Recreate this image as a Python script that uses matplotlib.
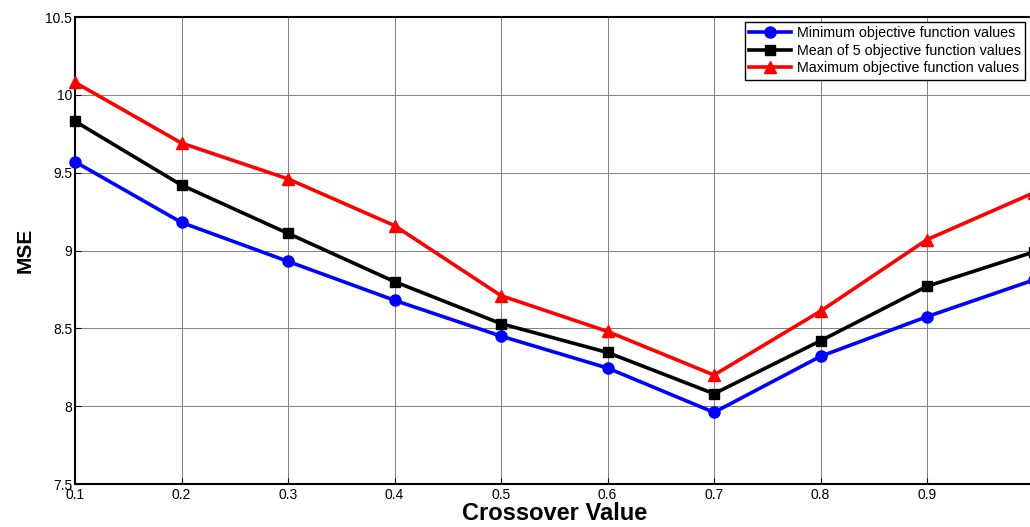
import matplotlib
matplotlib.use("Agg")
import matplotlib.pyplot as plt

plt.rcParams['font.family'] = ['Liberation Sans', 'DejaVu Sans']

crossover = [0.1, 0.2, 0.3, 0.4, 0.5, 0.6, 0.7, 0.8, 0.9, 1.0]
min_vals = [9.57, 9.18, 8.93, 8.68, 8.45, 8.245, 7.96, 8.32, 8.575, 8.81]
mean_vals = [9.83, 9.42, 9.11, 8.80, 8.53, 8.345, 8.08, 8.42, 8.77, 8.99]
max_vals = [10.08, 9.69, 9.46, 9.16, 8.71, 8.48, 8.20, 8.61, 9.07, 9.37]
labels = ['Minimum objective function values',
          'Mean of 5 objective function values',
          'Maximum objective function values']
xticks = [0.1, 0.2, 0.3, 0.4, 0.5, 0.6, 0.7, 0.8, 0.9]
yticks = [7.5, 8, 8.5, 9, 9.5, 10, 10.5]
ytick_labels = ['7.5', '8', '8.5', '9', '9.5', '10', '10.5']

fig = plt.figure(figsize=(10.30, 5.27), dpi=100)
ax = fig.add_axes([75/1030, 43/527, (1033.5-75)/1030, 467/527])

ax.plot(crossover, min_vals, color='#0000ff', lw=2.6, marker='o', ms=8, label=labels[0], clip_on=False, zorder=3)
ax.plot(crossover, mean_vals, color='black', lw=2.6, marker='s', ms=7.5, mfc='black', label=labels[1], clip_on=False, zorder=3)
ax.plot(crossover, max_vals, color='#ff0000', lw=2.6, marker='^', ms=9, label=labels[2], clip_on=False, zorder=3)

ax.set_xlim(0.1, 1.0)
ax.set_ylim(7.5, 10.5)
ax.set_xticks(xticks)
ax.set_xticklabels([f'{v:g}' for v in xticks])
ax.set_yticks(yticks)
ax.set_yticklabels(ytick_labels)
ax.tick_params(direction='in', labelsize=10, length=4, pad=2)
ax.tick_params(axis='x', pad=3)
ax.grid(True, color='#808080', lw=0.7)
ax.set_axisbelow(True)
for s in ax.spines.values():
    s.set_linewidth(1.5)

ax.set_xlabel('Crossover Value', fontsize=17, fontweight='bold', labelpad=0)
ax.set_ylabel('MSE', fontsize=15, fontweight='bold', labelpad=8)

leg = ax.legend(loc='upper right', bbox_to_anchor=(1025/1030, 1 - 22/527),
                bbox_transform=fig.transFigure, fontsize=10.3, fancybox=False,
                framealpha=1, edgecolor='black', borderpad=0.3, labelspacing=0.25,
                handlelength=2.9, handletextpad=0.4, borderaxespad=0)
leg.get_frame().set_linewidth(1.0)

fig.savefig('out.png', dpi=100)
